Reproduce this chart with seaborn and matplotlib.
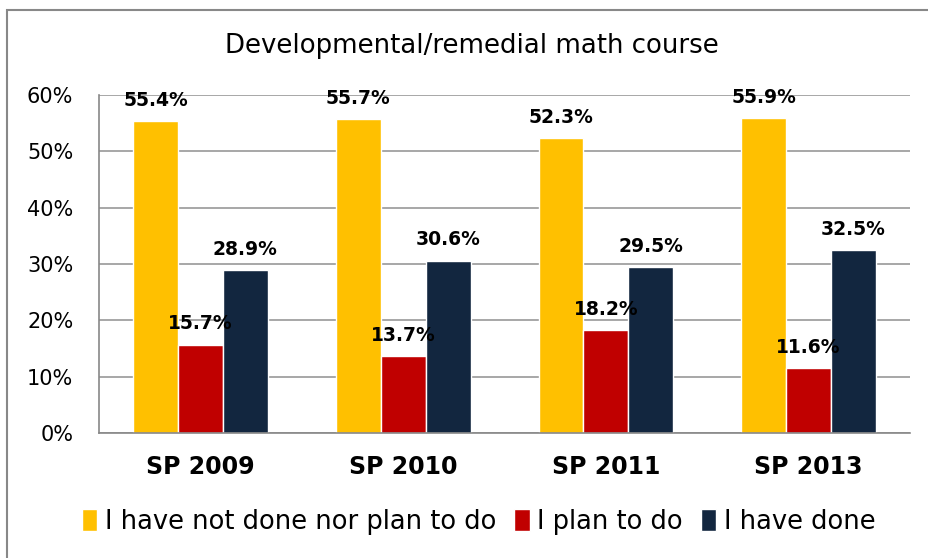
import pandas as pd
import matplotlib
matplotlib.use("Agg")
import matplotlib.pyplot as plt
import seaborn as sns
from matplotlib.patches import Rectangle

# chart data
terms = ["SP 2009", "SP 2010", "SP 2011", "SP 2013"]
series = ["I have not done nor plan to do", "I plan to do", "I have done"]
not_done = [55.4, 55.7, 52.3, 55.9]
plan_to = [15.7, 13.7, 18.2, 11.6]
have_done = [28.9, 30.6, 29.5, 32.5]
colors = ["#FFC000", "#C00000", "#12263F"]

rows = []
for name, vals in zip(series, [not_done, plan_to, have_done]):
    for t, v in zip(terms, vals):
        rows.append({"term": t, "status": name, "pct": v})
df = pd.DataFrame(rows)

sns.set_style("white")
plt.rcParams["font.family"] = ["DejaVu Sans"]
plt.rcParams["text.color"] = "black"
plt.rcParams["xtick.labelcolor"] = "black"
plt.rcParams["ytick.labelcolor"] = "black"

fig = plt.figure(figsize=(9.29, 5.58), dpi=100)
ax = fig.add_axes([0.1066, 0.224, 0.873, 0.606])

sns.barplot(data=df, x="term", y="pct", hue="status", palette=colors,
            width=0.665, saturation=1, ax=ax, legend=True)

ax.set_ylim(0, 60)
ax.set_xlim(-0.5, 3.5)
ax.set_yticks(range(0, 61, 10))
ax.set_yticklabels([f"{v}%" for v in range(0, 61, 10)], fontsize=15)
ax.yaxis.grid(True, color="#A0A0A0", linewidth=1.3)
ax.set_axisbelow(True)
ax.set_xlabel("")
ax.set_ylabel("")
for s in ["top", "right"]:
    ax.spines[s].set_visible(False)
for s in ["left", "bottom"]:
    ax.spines[s].set_color("#888888")
    ax.spines[s].set_linewidth(1.2)

# category labels with boundary tick marks
ax.set_xticks([-0.5, 0.5, 1.5, 2.5, 3.5])
ax.set_xticklabels([])
ax.set_xticks([0, 1, 2, 3], minor=True)
ax.set_xticklabels(terms, minor=True, fontsize=17, fontweight="bold")
ax.tick_params(axis="x", which="major", direction="out", length=6.5, color="#888888", width=1.2)
ax.tick_params(axis="x", which="minor", length=0, pad=16)
ax.tick_params(axis="y", direction="out", length=6.5, color="#888888", width=1.2, pad=12)

for cont in ax.containers:
    ax.bar_label(cont, labels=[f"{v:.1f}%" for v in cont.datavalues],
                 padding=8, fontsize=13.5, fontweight="bold", color="black")

ax.legend(loc="center", bbox_to_anchor=(0.468, -0.263), ncol=3, frameon=False,
          fontsize=18.5, handlelength=0.6, handleheight=0.9, handletextpad=0.3,
          columnspacing=0.7)

fig.text(0.508, 0.917, "Developmental/remedial math course", ha="center",
         va="center", fontsize=18.7)

fig.patches.append(Rectangle((0.0075, -0.05), 1.1, 1.032, transform=fig.transFigure,
                             fill=False, edgecolor="#888888", linewidth=1.5))

fig.savefig("out.png", dpi=100)
